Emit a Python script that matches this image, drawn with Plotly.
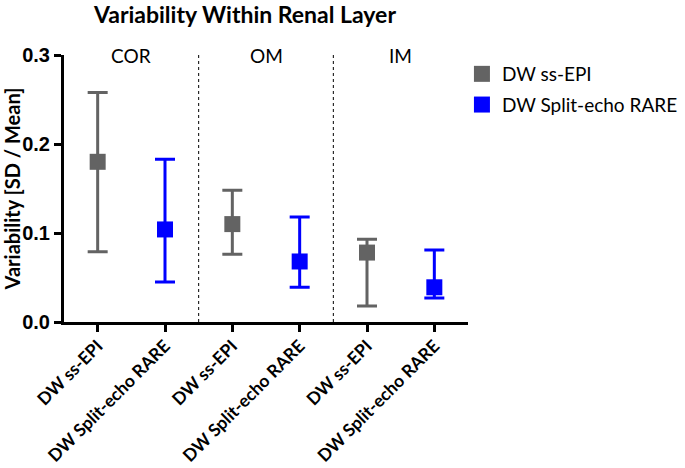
import plotly.graph_objects as go

groups = ["COR", "OM", "IM"]
methods = ["DW ss-EPI", "DW Split-echo RARE"]
tick_labels = ["DW ss-EPI", "DW Split-echo RARE"] * 3

# center values per group (COR, OM, IM)
epi_center = [0.180, 0.110, 0.078]
epi_upper = [0.258, 0.148, 0.093]
epi_lower = [0.079, 0.076, 0.018]

rare_center = [0.104, 0.068, 0.039]
rare_upper = [0.183, 0.118, 0.081]
rare_lower = [0.045, 0.039, 0.027]

colors = {"DW ss-EPI": "#636363", "DW Split-echo RARE": "#0000FF"}

epi_x = [0, 2, 4]
rare_x = [1, 3, 5]

fig = go.Figure()

for name, xs, c, up, lo in [
    ("DW ss-EPI", epi_x, epi_center, epi_upper, epi_lower),
    ("DW Split-echo RARE", rare_x, rare_center, rare_upper, rare_lower),
]:
    fig.add_trace(go.Scatter(
        x=xs, y=c, mode="markers", name=name, legendgroup=name,
        marker=dict(symbol="square", size=16, color=colors[name]),
        error_y=dict(type="data", symmetric=False,
                     array=[u - v for u, v in zip(up, c)],
                     arrayminus=[v - l for v, l in zip(c, lo)],
                     color=colors[name], thickness=3, width=10),
    ))

# dividers between groups
for xv in [1.5, 3.5]:
    fig.add_shape(type="line", x0=xv, x1=xv, y0=0, y1=0.3, xref="x", yref="y",
                  line=dict(color="black", width=1, dash="dot"))

for i, g in enumerate(groups):
    fig.add_annotation(x=2 * i + 0.5, y=0.3, xref="x", yref="y", text=g,
                       showarrow=False, yanchor="middle",
                       font=dict(family="Lato", size=19, color="black"))

W, H = 685, 468
fig.update_layout(
    width=W, height=H,
    margin=dict(l=64, r=217, t=55, b=146, autoexpand=False),
    plot_bgcolor="white", paper_bgcolor="white",
    title=dict(text="<b>Variability Within Renal Layer</b>", xref="paper", x=0.448,
               xanchor="center", yref="container", y=1 - 15 / H, yanchor="middle",
               font=dict(family="Lato", size=23, color="black")),
    legend=dict(x=0.985, y=1.0, xanchor="left", yanchor="top",
                font=dict(family="Lato", size=19, color="black"),
                traceorder="grouped", tracegroupgap=3, bgcolor="rgba(0,0,0,0)"),
    showlegend=True,
)

fig.update_xaxes(
    range=[-0.5, 5.5], tickvals=list(range(6)), ticktext=["<b>%s</b>" % t for t in tick_labels],
    tickangle=-45, ticks="outside", ticklen=7, tickwidth=3, tickcolor="black",
    showline=True, linewidth=3, linecolor="black", showgrid=False, zeroline=False,
    tickfont=dict(family="Lato", size=17.5, color="black"), automargin=False,
    ticklabelstandoff=-3,
)
fig.update_yaxes(
    range=[0, 0.3], tickvals=[0, 0.1, 0.2, 0.3], ticktext=["<b>0.0</b>", "<b>0.1</b>", "<b>0.2</b>", "<b>0.3</b>"],
    ticks="outside", ticklen=7, tickwidth=3, tickcolor="black",
    showline=True, linewidth=3, linecolor="black", showgrid=False, zeroline=False,
    tickfont=dict(family="Liberation Sans Narrow, Liberation Sans", size=20, color="black"),
    title=dict(text="<b>Variability [SD / Mean]</b>", standoff=10,
               font=dict(family="Lato", size=20, color="black")),
    automargin=False,
)

fig.write_html("out.html", config={"displayModeBar": False},
               post_script="document.body.style.margin='0';")
